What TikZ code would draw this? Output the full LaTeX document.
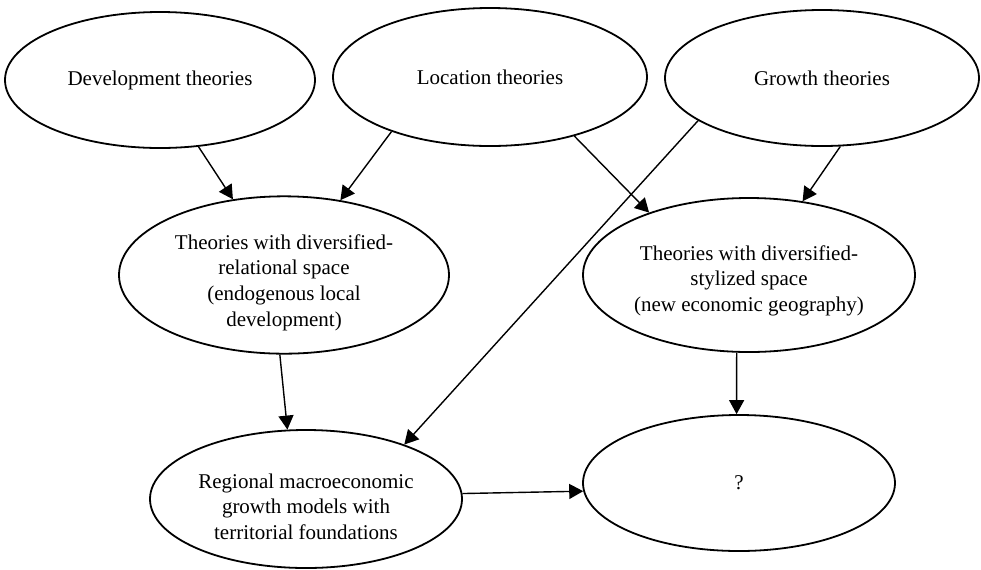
\documentclass[tikz,border=0pt]{standalone}
\usepackage{fontspec}
\setmainfont{Liberation Serif}
\usetikzlibrary{shapes.geometric, arrows.meta}

\begin{document}
\begin{tikzpicture}[x=0.5pt, y=-0.5pt,
        theory/.style={draw, ellipse, line width=0.9pt, inner sep=0pt, align=center,
            font=\fontsize{10.5}{12.8}\selectfont},
        link/.style={-{Triangle[length=7pt, width=7.5pt]}, line width=0.7pt}]
            \useasboundingbox (0, 0) rectangle (981, 569);

            \node[theory, minimum width=155pt, minimum height=68pt] (dev) at (160, 80) {Development theories};
            \node[theory, minimum width=157pt, minimum height=69pt] (loc) at (490, 77) {Location theories};
            \node[theory, minimum width=157pt, minimum height=68pt] (growth) at (822, 78) {Growth theories};
            % the rules push the longer texts a little down, as in the original
            \node[theory, minimum width=165pt, minimum height=78pt] (relational) at (284, 275)
                {\rule{0pt}{15pt}Theories with diversified-\\relational space\\(endogenous local\\development)};
            \node[theory, minimum width=166pt, minimum height=77pt] (stylized) at (749, 275)
                {\rule{0pt}{13pt}Theories with diversified-\\stylized space\\(new economic geography)};
            \node[theory, minimum width=156pt, minimum height=69pt] (regional) at (306, 499)
                {\rule{0pt}{15pt}Regional macroeconomic\\growth models with\\territorial foundations};
            \node[theory, minimum width=156pt, minimum height=68pt] (unknown) at (739, 483) {?};

            \draw[link] (dev.300) -- (relational.124);
            \draw[link] (loc.209) -- (relational.53);
            \draw[link] (loc.325) -- (stylized.148);
            \draw[link] (growth.285) -- (stylized.54);
            \draw[link] (growth.199) -- (regional.29);
            \draw[link] (relational.267) -- (regional.105);
            \draw[link] (stylized.261) -- (unknown.92);
            \draw[link] (regional.2) -- (unknown.183);

            %\draw[lightgray] (0, 0) grid[step=50] (981, 569);
        \end{tikzpicture}
\end{document}
